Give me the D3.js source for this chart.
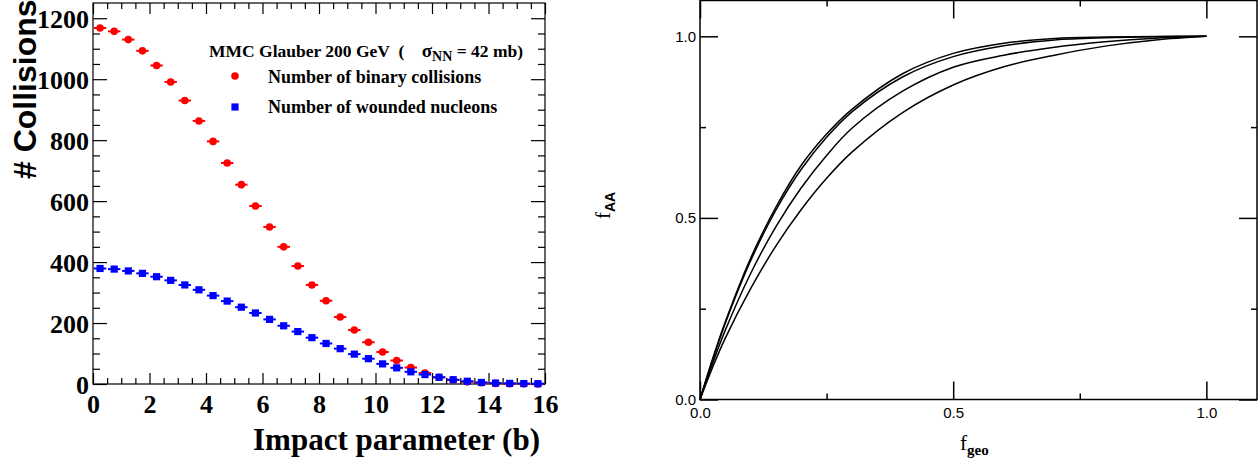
<!DOCTYPE html>
<html><head><meta charset="utf-8">
<script src="https://cdn.jsdelivr.net/npm/d3@7"></script>
<style>body{margin:0;background:#fff} svg{display:block}</style>
</head><body><svg id="c" width="1258" height="461"></svg>
<script>
// ---------- Left panel data ----------
const impactB = [0.25,0.75,1.25,1.75,2.25,2.75,3.25,3.75,4.25,4.75,5.25,5.75,6.25,6.75,7.25,7.75,
                 8.25,8.75,9.25,9.75,10.25,10.75,11.25,11.75,12.25,12.75,13.25,13.75,14.25,14.75,15.25,15.75];
const nBinary = [1168,1157,1130,1093,1045,991,930,863,796,725,654,584,515,450,387,325,
                 273,220,177,137,105,77,54,36,22,13,7,4,2,1,0.5,0.3];
const nWounded = [379,377,371,363,352,340,325,309,290,272,252,233,212,191,172,152,
                  133,116,98,83,66,53,40,31,22,14,9,5,3,2,1.5,1];
const bHalfWidth = 0.22;
const leftXTicks = [0,2,4,6,8,10,12,14,16];
const leftYTicks = [0,200,400,600,800,1000,1200];

// ---------- Right panel data ----------
const fGeo  = [0,0.025,0.05,0.1,0.15,0.2,0.25,0.3,0.4,0.5,0.6,0.7,0.8,0.9,1.0];
const fAA_1 = [0,0.112,0.214,0.389,0.530,0.645,0.731,0.799,0.897,0.953,0.981,0.994,0.998,0.9998,1];
const fAA_2 = [0,0.110,0.210,0.382,0.522,0.634,0.722,0.792,0.888,0.944,0.974,0.990,0.996,0.999,1];
const fAA_3 = [0,0.100,0.191,0.347,0.476,0.583,0.672,0.747,0.849,0.915,0.948,0.970,0.985,0.995,1];
const fAA_4 = [0,0.089,0.169,0.305,0.423,0.523,0.609,0.681,0.790,0.866,0.916,0.948,0.973,0.990,1];
const rightMajor = [0,0.5,1.0];
const rightMinor = [0.25,0.75];

const svg = d3.select("#c");
const serif = "'Liberation Serif','Times New Roman',serif";
const sans = "'Liberation Sans',Arial,sans-serif";

// ================= LEFT PANEL =================
const xL = d3.scaleLinear().domain([0,16]).range([93,545]);
const yL = d3.scaleLinear().domain([0,1250]).range([384,3]);
const gL = svg.append("g");
gL.append("rect").attr("x",93).attr("y",3).attr("width",452).attr("height",381)
  .attr("fill","none").attr("stroke","#000").attr("stroke-width",1.2);

const minorX = d3.range(0,16.01,0.5).filter(v=>v%2!==0);
const minorY = d3.range(0,1250,50).filter(v=>v%200!==0);
function tickAxis(g, axis){ g.call(axis); g.select(".domain").remove(); g.selectAll("line").attr("stroke","#000").attr("stroke-width",1.2); }
// bottom
gL.append("g").attr("transform","translate(0,384)").call(g=>tickAxis(g,d3.axisBottom(xL).tickValues(leftXTicks).tickSize(-11).tickPadding(11)))
  .selectAll("text").attr("font-family",serif).attr("font-weight","bold").attr("font-size",26).attr("fill","#000");
gL.append("g").attr("transform","translate(0,384)").call(g=>tickAxis(g,d3.axisBottom(xL).tickValues(minorX).tickSize(-6).tickFormat("")));
// top
gL.append("g").attr("transform","translate(0,3)").call(g=>tickAxis(g,d3.axisTop(xL).tickValues(leftXTicks).tickSize(-11).tickFormat("")));
gL.append("g").attr("transform","translate(0,3)").call(g=>tickAxis(g,d3.axisTop(xL).tickValues(minorX).tickSize(-6).tickFormat("")));
// left
gL.append("g").attr("transform","translate(93,0)").call(g=>tickAxis(g,d3.axisLeft(yL).tickValues(leftYTicks).tickSize(-14).tickPadding(4).tickFormat(d3.format("d"))))
  .selectAll("text").attr("font-family",serif).attr("font-weight","bold").attr("font-size",26).attr("fill","#000").attr("dy","0.35em");
gL.append("g").attr("transform","translate(93,0)").call(g=>tickAxis(g,d3.axisLeft(yL).tickValues(minorY).tickSize(-7).tickFormat("")));
// right
gL.append("g").attr("transform","translate(545,0)").call(g=>tickAxis(g,d3.axisRight(yL).tickValues(leftYTicks).tickSize(-14).tickFormat("")));
gL.append("g").attr("transform","translate(545,0)").call(g=>tickAxis(g,d3.axisRight(yL).tickValues(minorY).tickSize(-7).tickFormat("")));
gL.selectAll(".tick text").attr("fill","#000");

// data: binary collisions (red), wounded nucleons (blue)
const red = "#ff0000", blue = "#0000ff";
const gR = gL.append("g");
impactB.forEach((b,i)=>{
  gR.append("line").attr("x1",xL(b-bHalfWidth)).attr("x2",xL(b+bHalfWidth))
    .attr("y1",yL(nBinary[i])).attr("y2",yL(nBinary[i])).attr("stroke",red).attr("stroke-width",2);
  gR.append("circle").attr("cx",xL(b)).attr("cy",yL(nBinary[i])).attr("r",3.8).attr("fill",red);
});
const gB = gL.append("g");
impactB.forEach((b,i)=>{
  gB.append("line").attr("x1",xL(b-bHalfWidth)).attr("x2",xL(b+bHalfWidth))
    .attr("y1",yL(nWounded[i])).attr("y2",yL(nWounded[i])).attr("stroke",blue).attr("stroke-width",2);
  gB.append("rect").attr("x",xL(b)-3.6).attr("y",yL(nWounded[i])-3.6).attr("width",7.2).attr("height",7.2).attr("fill",blue);
});

// legend
const lg = gL.append("g").attr("font-family",serif).attr("font-weight","bold").attr("fill","#000");
const t1 = lg.append("text").attr("x",209).attr("y",57).attr("font-size",17.5).style("white-space","pre");
t1.append("tspan").text("MMC Glauber 200 GeV  (    ");
t1.append("tspan").attr("font-size",19).text("σ");
t1.append("tspan").attr("font-size",14).attr("dy",4).text("NN");
t1.append("tspan").attr("dy",-4).text(" = 42 mb)");
lg.append("circle").attr("cx",235).attr("cy",76).attr("r",3.8).attr("fill",red);
lg.append("text").attr("x",268).attr("y",83).attr("font-size",18).text("Number of binary collisions");
lg.append("rect").attr("x",231.4).attr("y",103.4).attr("width",7.2).attr("height",7.2).attr("fill",blue);
lg.append("text").attr("x",268).attr("y",113).attr("font-size",18).text("Number of wounded nucleons");

// axis titles
gL.append("text").attr("x",540).attr("y",450).attr("text-anchor","end")
  .attr("font-family",serif).attr("font-weight","bold").attr("font-size",31).text("Impact parameter (b)");
gL.append("text").attr("transform","translate(36,179) rotate(-90)")
  .attr("font-family",sans).attr("font-weight","bold").attr("font-size",32).text("# Collisions");

// ================= RIGHT PANEL =================
const xR = d3.scaleLinear().domain([0,1.1]).range([700,1257]);
const yR = d3.scaleLinear().domain([0,1.1]).range([399.5,0]);
const gP = svg.append("g");
gP.append("rect").attr("x",700).attr("y",0.5).attr("width",557).attr("height",399)
  .attr("fill","none").attr("stroke","#000").attr("stroke-width",1.5);
function tickAxis2(g, axis){ g.call(axis); g.select(".domain").remove(); g.selectAll("line").attr("stroke","#000").attr("stroke-width",1.5); }
gP.append("g").attr("transform","translate(0,399.5)").call(g=>tickAxis2(g,d3.axisBottom(xR).tickValues(rightMajor).tickSize(-18).tickPadding(3).tickFormat(d3.format(".1f"))))
  .selectAll("text").attr("font-family",sans).attr("font-size",15).attr("fill","#000").attr("dy","1.05em");
gP.append("g").attr("transform","translate(0,399.5)").call(g=>tickAxis2(g,d3.axisBottom(xR).tickValues(rightMinor).tickSize(-6).tickFormat("")));
gP.append("g").attr("transform","translate(0,0.5)").call(g=>tickAxis2(g,d3.axisTop(xR).tickValues(rightMajor).tickSize(-18).tickFormat("")));
gP.append("g").attr("transform","translate(0,0.5)").call(g=>tickAxis2(g,d3.axisTop(xR).tickValues(rightMinor).tickSize(-6).tickFormat("")));
gP.append("g").attr("transform","translate(700,0)").call(g=>tickAxis2(g,d3.axisLeft(yR).tickValues(rightMajor).tickSize(-18).tickPadding(4).tickFormat(d3.format(".1f"))))
  .selectAll("text").attr("font-family",sans).attr("font-size",15).attr("fill","#000");
gP.append("g").attr("transform","translate(700,0)").call(g=>tickAxis2(g,d3.axisLeft(yR).tickValues(rightMinor).tickSize(-6).tickFormat("")));
gP.append("g").attr("transform","translate(1257,0)").call(g=>tickAxis2(g,d3.axisRight(yR).tickValues(rightMajor).tickSize(-18).tickFormat("")));
gP.append("g").attr("transform","translate(1257,0)").call(g=>tickAxis2(g,d3.axisRight(yR).tickValues(rightMinor).tickSize(-6).tickFormat("")));

const line = d3.line().x(d=>xR(d[0])).y(d=>yR(d[1])).curve(d3.curveCatmullRom.alpha(0.5));
[fAA_1,fAA_2,fAA_3,fAA_4].forEach(arr=>{
  gP.append("path").attr("d",line(fGeo.map((f,i)=>[f,arr[i]])))
    .attr("fill","none").attr("stroke","#000").attr("stroke-width",1.5);
});

// titles
const ft = gP.append("text").attr("x",960).attr("y",450).attr("font-family",serif).attr("font-size",21).attr("fill","#000");
ft.append("tspan").text("f");
ft.append("tspan").attr("font-size",15).attr("font-weight","bold").attr("dy",5).text("geo");
const fa = gP.append("text").attr("transform","translate(610,219) rotate(-90)").attr("font-family",serif).attr("font-size",21).attr("fill","#000");
fa.append("tspan").text("f");
fa.append("tspan").attr("font-family",sans).attr("font-size",14).attr("font-weight","bold").attr("dy",5).text("AA");
</script></body></html>
